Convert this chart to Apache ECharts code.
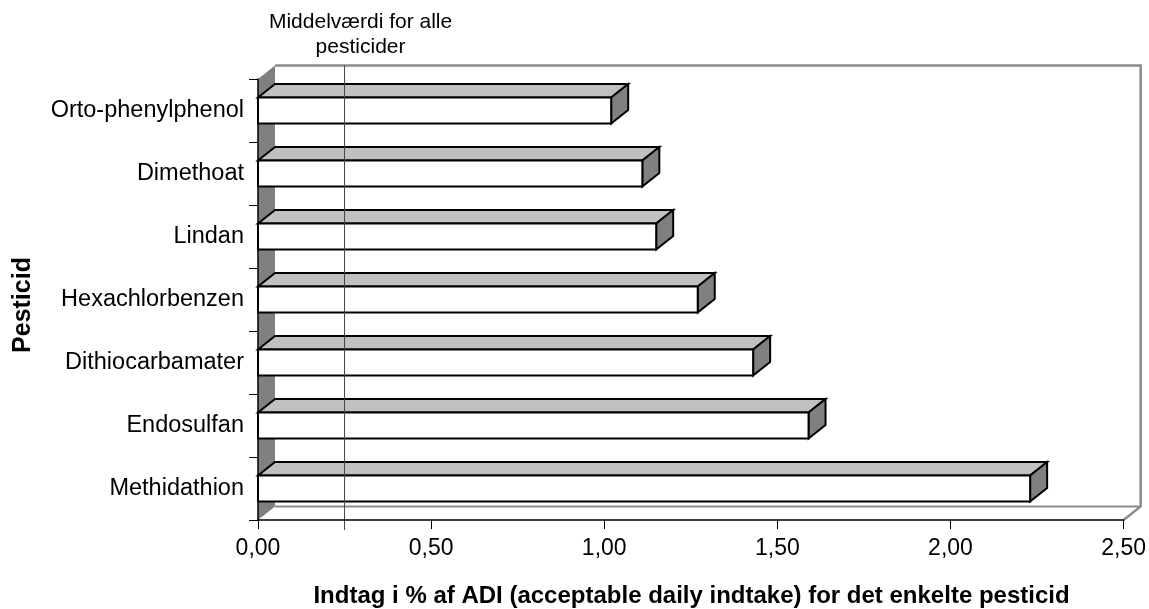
<!DOCTYPE html>
<html>
<head>
<meta charset="utf-8">
<title>Indtag af pesticider i % af ADI</title>
<script src="https://cdn.jsdelivr.net/npm/echarts@6/dist/echarts.min.js"></script>
<style>
  html, body { margin: 0; padding: 0; background: #fff; }
  #chart { width: 1149px; height: 609px; }
</style>
</head>
<body>
<div id="chart"></div>
<script>
// Pesticides, listed from the bottom of the axis upwards
const categories = ['Methidathion', 'Endosulfan', 'Dithiocarbamater', 'Hexachlorbenzen', 'Lindan', 'Dimethoat', 'Orto-phenylphenol'];
// Intake as % of ADI for each pesticide
const intake = [2.23, 1.59, 1.43, 1.27, 1.15, 1.11, 1.02];
// Mean value across all pesticides
const meanValue = 0.25;
const meanLabel = 'Middelværdi for alle\npesticider';
const xTicks = [0, 0.5, 1, 1.5, 2, 2.5];
const xTitle = 'Indtag i % af ADI (acceptable daily indtake) for det enkelte pesticid';
const yTitle = 'Pesticid';

const FONT = "Arial, 'Liberation Sans', sans-serif";
const DX = 17, DY = -13.5;          // depth offset of the 3D boxes and walls
const WALL = '#8c8c8c';

const chart = echarts.init(document.getElementById('chart'), null, { renderer: 'canvas' });

// Back wall, floor and the dark side wall of the 3D frame
function renderWalls(params, api) {
  const c = params.coordSys;
  const x = c.x, y = c.y, w = c.width, h = c.height;
  return {
    type: 'group',
    children: [
      {
        type: 'polygon',
        shape: { points: [[x, y], [x + DX, y + DY], [x + DX, y + h + DY], [x, y + h]] },
        style: { fill: '#808080', stroke: null }
      },
      {
        type: 'polyline',
        shape: { points: [[x + DX, y + DY], [x + w + DX, y + DY], [x + w + DX, y + h + DY], [x + w, y + h]] },
        style: { stroke: WALL, lineWidth: 2.5, fill: null }
      },
      {
        type: 'line',
        shape: { x1: x + DX, y1: y + h + DY, x2: x + w + DX, y2: y + h + DY },
        style: { stroke: WALL, lineWidth: 2 }
      }
    ]
  };
}

// One 3D box per pesticide
function renderBox(params, api) {
  const val = api.value(0), idx = api.value(1);
  const p0 = api.coord([0, idx]);
  const p1 = api.coord([val, idx]);
  const band = api.size([0, 1])[1];
  const hh = band * 0.41;
  const x0 = p0[0], x1 = p1[0];
  const y0 = p0[1] - hh / 2, y1 = p0[1] + hh / 2;
  const line = { stroke: '#000', lineWidth: 2, lineJoin: 'miter' };
  return {
    type: 'group',
    children: [
      { type: 'polygon', shape: { points: [[x0, y0], [x0 + DX, y0 + DY], [x1 + DX, y0 + DY], [x1, y0]] },
        style: Object.assign({ fill: '#c0c0c0' }, line) },
      { type: 'polygon', shape: { points: [[x1, y0], [x1 + DX, y0 + DY], [x1 + DX, y1 + DY], [x1, y1]] },
        style: Object.assign({ fill: '#808080' }, line) },
      { type: 'rect', shape: { x: x0, y: y0, width: x1 - x0, height: hh },
        style: Object.assign({ fill: '#fff' }, line) }
    ]
  };
}

// Vertical reference line for the mean, with its caption
function renderMean(params, api) {
  const c = params.coordSys;
  const x = api.coord([api.value(0), 0])[0];
  return {
    type: 'group',
    children: [
      { type: 'line', shape: { x1: x, y1: c.y + DY, x2: x, y2: c.y + c.height + 10 },
        style: { stroke: '#444', lineWidth: 1 } },
      { type: 'text', x: x + 16, y: c.y - 44,
        style: { text: meanLabel, fontSize: 21, fontFamily: FONT, fill: '#000',
                 align: 'center', verticalAlign: 'middle', lineHeight: 25 } }
    ]
  };
}

const option = {
  animation: false,
  backgroundColor: '#fff',
  grid: { left: 258, right: 24, top: 79, bottom: 89, containLabel: false },
  xAxis: {
    type: 'value',
    min: xTicks[0],
    max: xTicks[xTicks.length - 1],
    interval: xTicks[1] - xTicks[0],
    z: 10,
    axisLine: { show: true, lineStyle: { color: '#000', width: 1.5 } },
    axisTick: { show: true, length: 9, lineStyle: { color: '#000', width: 1 } },
    splitLine: { show: false },
    axisLabel: {
      margin: 17, fontSize: 23, fontFamily: FONT, color: '#000',
      formatter: v => v.toFixed(2).replace('.', ',')
    }
  },
  yAxis: {
    type: 'category',
    data: categories,
    z: 10,
    axisLine: { show: true, lineStyle: { color: '#000', width: 1.5 } },
    axisTick: { show: true, length: 9, alignWithLabel: false, lineStyle: { color: '#000', width: 1 } },
    splitLine: { show: false },
    axisLabel: { margin: 14, fontSize: 23.5, fontFamily: FONT, color: '#000' }
  },
  graphic: [
    { type: 'text', x: 691.5, y: 596,
      style: { text: xTitle, fontSize: 24, fontWeight: 'bold', fontFamily: FONT, fill: '#000',
               align: 'center', verticalAlign: 'middle' } },
    { type: 'text', x: 23, y: 305, rotation: Math.PI / 2,
      style: { text: yTitle, fontSize: 25, fontWeight: 'bold', fontFamily: FONT, fill: '#000',
               align: 'center', verticalAlign: 'middle' } }
  ],
  series: [
    { type: 'custom', name: 'walls', z: 1, silent: true,
      renderItem: renderWalls, data: [[0, 0]], encode: { x: 0, y: 1 } },
    { type: 'custom', name: 'intake', z: 3,
      renderItem: renderBox, data: intake.map((v, i) => [v, i]), encode: { x: 0, y: 1 } },
    { type: 'custom', name: 'mean', z: 5, silent: true,
      renderItem: renderMean, data: [[meanValue, 0]], encode: { x: 0, y: 1 } }
  ]
};

chart.setOption(option);
</script>
</body>
</html>
